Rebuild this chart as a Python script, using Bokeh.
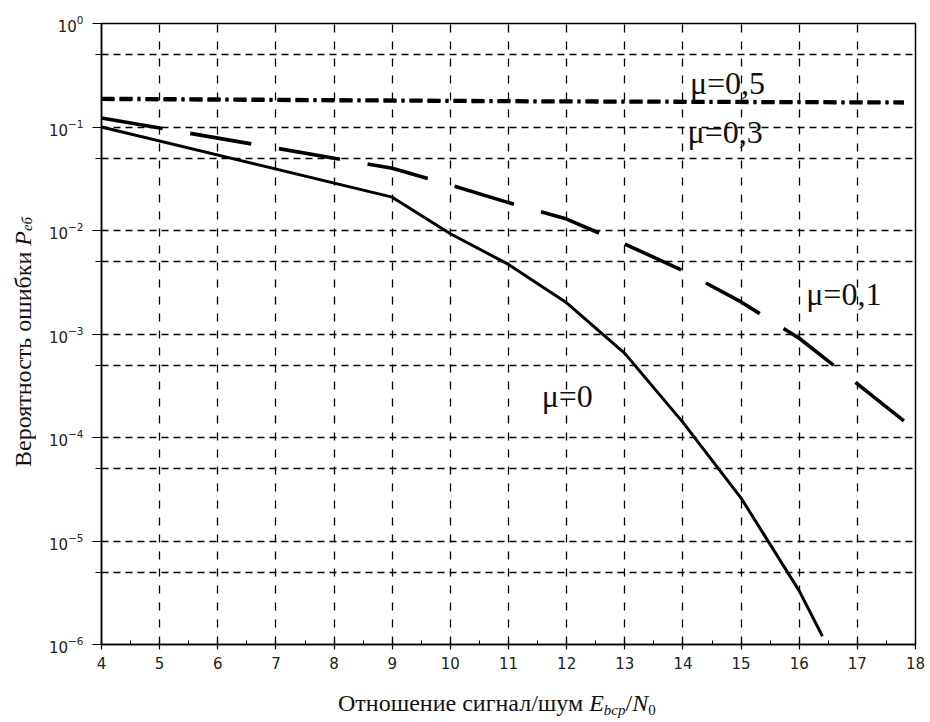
import numpy as np
from bokeh.plotting import figure
from bokeh.layouts import row, column
from bokeh.models import FixedTicker, SingleIntervalTicker, Label, LogTickFormatter, Div
from bokeh.embed import file_html
from bokeh.resources import INLINE

# ---- data ----
x_mu0 = [4, 9, 10, 11, 12, 13, 14, 15, 16, 16.4]
y_mu0 = [0.1, 0.021, 0.0093, 0.0047, 0.0020, 6.5e-4, 1.4e-4, 2.6e-5, 3.3e-6, 1.2e-6]

x_mu01 = [4, 9, 10, 11, 12, 13, 14, 15, 16, 17, 17.8]
y_mu01 = [0.122, 0.040, 0.0275, 0.0186, 0.0129, 0.0074, 0.0041, 0.00204, 9.1e-4, 3.3e-4, 1.45e-4]

x_mu03 = [4, 11, 17.8]
y_mu03 = [0.185, 0.176, 0.171]

x_mu05 = [4, 11, 17.8]
y_mu05 = [0.189, 0.179, 0.174]

y_major = [1e-6, 1e-5, 1e-4, 1e-3, 1e-2, 1e-1, 1.0]
y_minor = [5e-6, 5e-5, 5e-4, 5e-3, 5e-2, 5e-1]

curve_labels = ["μ=0,5", "μ=0,3", "μ=0,1", "μ=0"]
label_x = [14.12, 14.08, 16.12, 11.57]
label_y = [0.267, 0.0897, 0.00243, 2.5e-4]

x_title_html = ("Отношение сигнал/шум <i>E</i><sub style='font-size:15px;vertical-align:-4px'><i>bср</i></sub>"
                "/<i>N</i><sub style='font-size:15px;vertical-align:-4px'>0</sub>")
y_title_html = ("Вероятность ошибки <i>P</i><sub style='font-size:15px;vertical-align:-4px'><i>еб</i></sub>")

# ---- layout geometry (window 930 x 722) ----
W, H = 930, 722
YDIV_W = 45
XDIV_H = 42
PW, PH = W - YDIV_W, H - XDIV_H

p = figure(width=PW, height=PH, x_range=(4, 18), y_range=(1e-6, 1.0),
           y_axis_type="log", output_backend="svg", toolbar_location=None,
           min_border_left=99 - YDIV_W, min_border_right=15, min_border_top=23,
           min_border_bottom=PH - 644, margin=0)
p.background_fill_color = "white"
p.border_fill_color = "white"
p.outline_line_color = "black"
p.outline_line_width = 1.5

# axes
p.xaxis.ticker = SingleIntervalTicker(interval=1, num_minor_ticks=2)
p.yaxis.ticker = FixedTicker(ticks=y_major, minor_ticks=y_minor)
p.yaxis.formatter = LogTickFormatter()
for ax in (p.xaxis[0], p.yaxis[0]):
    ax.axis_line_color = "black"
    ax.axis_line_width = 1.5
    ax.major_tick_line_color = "black"
    ax.major_tick_line_width = 1.2
    ax.minor_tick_line_color = "black"
    ax.minor_tick_line_width = 1.0
    ax.major_label_text_font = "DejaVu Sans"
    ax.major_label_text_font_size = "15px"
    ax.major_label_text_color = "#222222"
p.xaxis.major_tick_in = 5
p.xaxis.major_tick_out = 5
p.xaxis.minor_tick_in = 4
p.xaxis.minor_tick_out = 0
p.xaxis.major_label_standoff = 7
p.yaxis.major_tick_in = 5
p.yaxis.major_tick_out = 9
p.yaxis.minor_tick_in = 3
p.yaxis.minor_tick_out = 6
p.yaxis.major_label_standoff = 9

# grid
p.xgrid.grid_line_color = "black"
p.xgrid.grid_line_width = 1.3
p.xgrid.grid_line_dash = "8 9"
p.ygrid.grid_line_color = "black"
p.ygrid.grid_line_width = 1.3
p.ygrid.grid_line_dash = "7 5"
p.ygrid.minor_grid_line_color = "black"
p.ygrid.minor_grid_line_width = 1.3
p.ygrid.minor_grid_line_dash = "7 5"

# curves
p.line(x_mu05, y_mu05, line_color="black", line_width=3.5, line_dash="13 5 13 5 3 5")
p.line(x_mu03, y_mu03, line_color="black", line_width=3.5, line_dash="13 5 13 5 3 5")
p.line(x_mu01, y_mu01, line_color="black", line_width=3.6, line_dash="62 28")
p.line(x_mu0, y_mu0, line_color="black", line_width=3)

for t, lx, ly in zip(curve_labels, label_x, label_y):
    p.add_layout(Label(x=lx, y=ly, text=t, text_font="Liberation Serif",
                       text_font_size="32px", text_baseline="middle",
                       text_color="#111111"))

font_css = "font-family:'Liberation Serif',serif;font-size:24px;color:#111;white-space:nowrap;"

xdiv = Div(width=PW, height=XDIV_H, margin=0,
           text=(f"<div style=\"position:relative;width:{PW}px;height:{XDIV_H}px;\">"
                 f"<div style=\"position:absolute;left:{338 - YDIV_W}px;top:11px;line-height:24px;{font_css}\">"
                 f"{x_title_html}</div></div>"))

ydiv = Div(width=YDIV_W, height=H, margin=0,
           text=(f"<div style=\"position:relative;width:{YDIV_W}px;height:{H}px;\">"
                 f"<div style=\"position:absolute;left:11px;bottom:{H - 467}px;line-height:24px;"
                 f"writing-mode:vertical-rl;transform:rotate(180deg);{font_css}\">"
                 f"{y_title_html}</div></div>"))

layout = row(ydiv, column(p, xdiv, spacing=0, margin=0), spacing=0, margin=0)

open("out.html", "w").write(file_html(layout, INLINE))
